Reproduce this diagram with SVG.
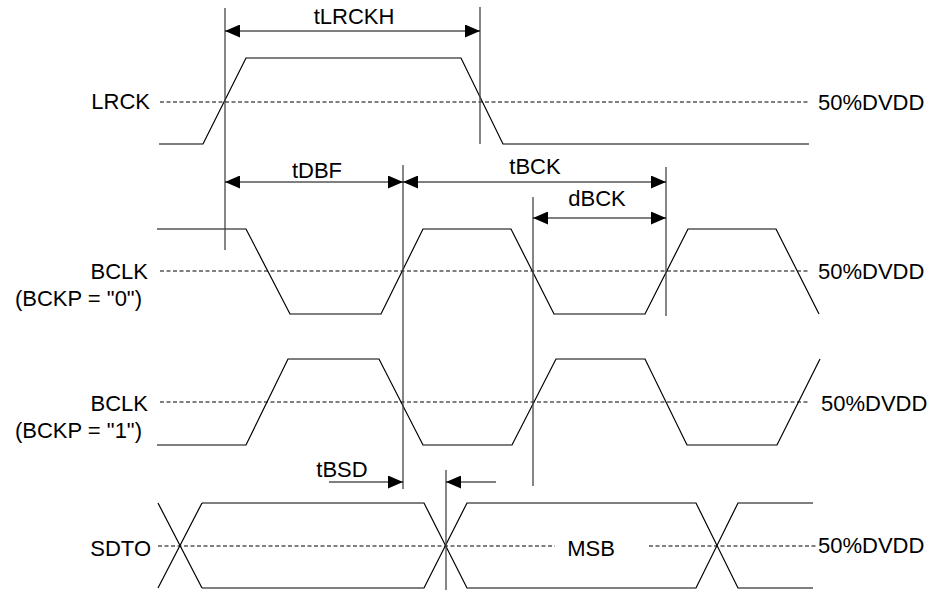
<svg xmlns="http://www.w3.org/2000/svg" width="934" height="594" viewBox="0 0 934 594">
<defs>
<marker id="ah" viewBox="0 0 15 13" refX="15" refY="6.5" markerWidth="15" markerHeight="13" markerUnits="userSpaceOnUse" orient="auto-start-reverse">
<path d="M0,0 L15,6.5 L0,13 z" fill="#000"/>
</marker>
<style>
text{font-family:"Liberation Sans",Arial,sans-serif;font-size:22px;fill:#000}
.l{text-anchor:end}
.c{text-anchor:middle}
.w{fill:none;stroke:#000;stroke-width:1.2}
.d{fill:none;stroke:#000;stroke-width:1;stroke-dasharray:4 2.5}
.v{fill:none;stroke:#444;stroke-width:1.3}
.a{fill:none;stroke:#000;stroke-width:1.2}
</style>
</defs>
<rect width="934" height="594" fill="#fff"/>
<g id="lrck">
<text class="l" x="150" y="109">LRCK</text>
<line class="d" x1="160" y1="102" x2="810" y2="102"/>
<polyline class="w" points="159,144 203,144 246,58 461,58 503,144 809,144"/>
<text x="818" y="110">50%DVDD</text>
</g>
<g id="bclk0">
<text class="l" x="148" y="279">BCLK</text>
<text class="l" x="142" y="306">(BCKP = "0")</text>
<line class="d" x1="160" y1="271" x2="810" y2="271"/>
<polyline class="w" points="157,229 246,229 290,314 381,314 423,229 511,229 554,314 645,314 688,229 776,229 819,314"/>
<text x="818" y="279">50%DVDD</text>
</g>
<g id="bclk1">
<text class="l" x="148" y="411">BCLK</text>
<text class="l" x="142" y="438">(BCKP = "1")</text>
<line class="d" x1="160" y1="402" x2="809" y2="402"/>
<polyline class="w" points="157,445 246,445 288,359 379,359 423,445 512,445 556,359 645,359 687,445 777,445 820,359"/>
<text x="821" y="411">50%DVDD</text>
</g>
<g id="sdto">
<text class="l" x="151" y="556">SDTO</text>
<line class="d" x1="158" y1="546" x2="555" y2="546"/>
<line class="d" x1="649" y1="546" x2="818" y2="546"/>
<path class="w" d="M158,503 L202,588 M158,588 L202,503 M202,503 L424,503 L467,588 L696,588 L738,503 L813,503 M202,588 L424,588 L467,503 L696,503 L738,588 L813,588"/>
<text class="c" x="591" y="556">MSB</text>
<text x="818" y="553">50%DVDD</text>
</g>
<g id="connectors">
<line class="v" x1="225" y1="8" x2="225" y2="250"/>
<line class="v" x1="480" y1="7" x2="480" y2="144"/>
<line class="v" x1="403" y1="165" x2="403" y2="489"/>
<line class="v" x1="666" y1="167" x2="666" y2="316"/>
<line class="v" x1="533" y1="197" x2="533" y2="486"/>
<line class="v" x1="446" y1="470" x2="446" y2="590"/>
<line class="a" x1="225" y1="31" x2="480" y2="31" marker-start="url(#ah)" marker-end="url(#ah)"/>
<line class="a" x1="225" y1="182" x2="403" y2="182" marker-start="url(#ah)" marker-end="url(#ah)"/>
<line class="a" x1="403" y1="182" x2="666" y2="182" marker-start="url(#ah)" marker-end="url(#ah)"/>
<line class="a" x1="533" y1="218" x2="666" y2="218" marker-start="url(#ah)" marker-end="url(#ah)"/>
<line class="a" x1="329" y1="482" x2="403" y2="482" marker-end="url(#ah)"/>
<line class="a" x1="496" y1="482" x2="446" y2="482" marker-end="url(#ah)"/>
<text class="c" x="354" y="24">tLRCKH</text>
<text class="c" x="317" y="178">tDBF</text>
<text class="c" x="535" y="174">tBCK</text>
<text class="c" x="597" y="206">dBCK</text>
<text class="c" x="342" y="477">tBSD</text>
</g>
</svg>
